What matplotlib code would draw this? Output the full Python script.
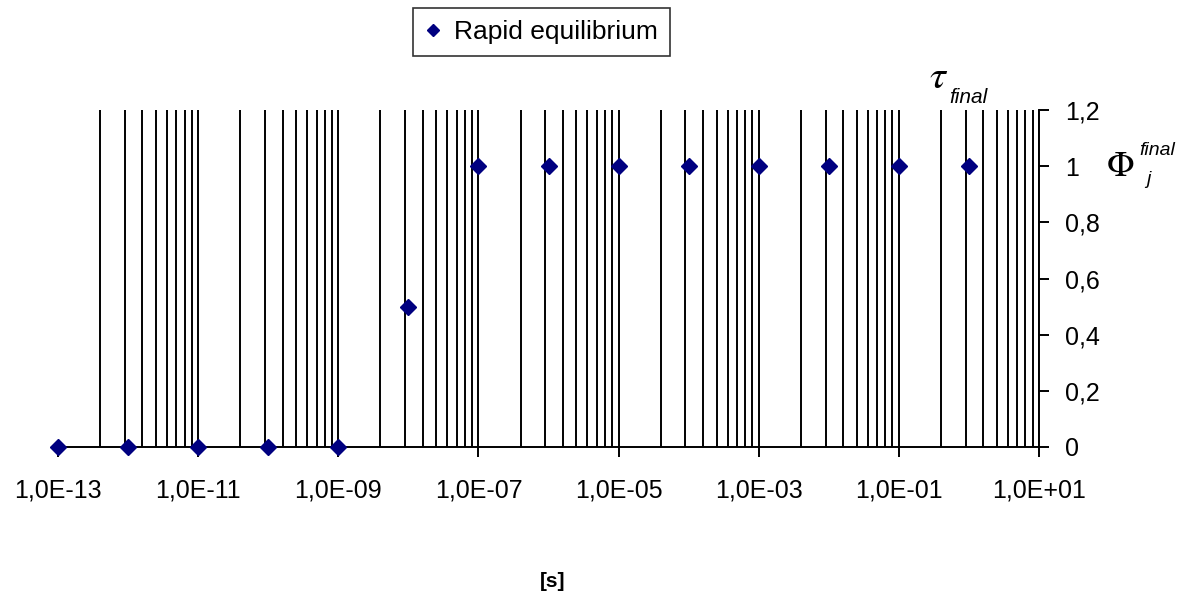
import numpy as np
import matplotlib
matplotlib.use("Agg")
import matplotlib.pyplot as plt
from matplotlib.ticker import FixedLocator, FuncFormatter, NullFormatter

plt.rcParams['font.family'] = ['Liberation Sans', 'DejaVu Sans']
plt.rcParams['mathtext.fontset'] = 'stix'

# data
time_s = [1e-13, 1e-12, 1e-11, 1e-10, 1e-9, 1e-8, 1e-7, 1e-6, 1e-5, 1e-4, 1e-3, 1e-2, 1e-1, 1e0]
phi_final = [0, 0, 0, 0, 0, 0.5, 1, 1, 1, 1, 1, 1, 1, 1]
series_name = 'Rapid equilibrium'
major_exps = [-13, -11, -9, -7, -5, -3, -1, 1]
y_ticks = [0, 0.2, 0.4, 0.6, 0.8, 1.0, 1.2]

fig = plt.figure(figsize=(11.87, 5.96), dpi=100)
ax = fig.add_axes([0.0489, 0.25, 0.8264, 0.5654])

line, = ax.plot(time_s, phi_final, linestyle='none', marker='D', markersize=8,
                color='#000080', label=series_name, zorder=5, clip_on=False)

ax.set_xscale('log')
ax.set_xlim(1e-13, 1e1)
ax.set_ylim(0, 1.2)

# excel-style log axis: majors every 2 decades, minors at k^2 inside each step
majors = [10.0 ** e for e in major_exps]
minors = []
for e in major_exps[:-1]:
    for k in range(2, 11):
        minors.append(10.0 ** e * k * k)
ax.xaxis.set_major_locator(FixedLocator(majors))
ax.xaxis.set_minor_locator(FixedLocator(minors))
ax.xaxis.set_minor_formatter(NullFormatter())
ax.xaxis.remove_overlapping_locs = False
ax.xaxis.set_major_formatter(FuncFormatter(lambda v, p: '1,0E%+03d' % int(round(np.log10(v)))))
ax.grid(True, which='minor', axis='x', color='black', linewidth=1.4)
ax.grid(False, which='major')
ax.tick_params(axis='x', which='major', direction='out', length=7, width=1.4,
               labelsize=18, pad=16, colors='black')
ax.tick_params(axis='x', which='minor', length=0)

ax.yaxis.tick_right()
ax.yaxis.set_major_locator(FixedLocator(y_ticks))
ax.yaxis.set_major_formatter(FuncFormatter(lambda v, p: ('%g' % round(v, 1)).replace('.', ',')))
ax.tick_params(axis='y', direction='out', length=7, width=1.4, labelsize=18, pad=12)

ax.spines['left'].set_visible(False)
ax.spines['top'].set_visible(False)
ax.spines['right'].set_linewidth(1.4)
ax.spines['bottom'].set_linewidth(1.4)

# tau_final above the value axis
fig.text(929 / 1187, 1 - 88 / 596, r'$\tau$', fontsize=29, va='baseline')
fig.text(949 / 1187, 1 - 103 / 596, 'final', fontsize=15, style='italic', va='baseline')
# Phi_j^final beside the value axis
fig.text(1106 / 1187, 1 - 176 / 596, r'$\Phi$', fontsize=26, va='baseline')
fig.text(1139 / 1187, 1 - 155 / 596, 'final', fontsize=14, style='italic', va='baseline')
fig.text(1146 / 1187, 1 - 184 / 596, 'j', fontsize=14, style='italic', va='baseline')

fig.text(0.455, 0.015, '[s]', fontsize=15, fontweight='bold')

leg = fig.legend(handles=[line], loc='upper left', bbox_to_anchor=(413 / 1187, 1 - 8 / 596),
                 fontsize=19, frameon=True, fancybox=False, handlelength=0.6,
                 handletextpad=0.5, markerscale=0.75, borderpad=0.45, borderaxespad=0)
leg.get_frame().set_edgecolor('black')
leg.get_frame().set_linewidth(1.2)

fig.savefig('out.png', dpi=100)
